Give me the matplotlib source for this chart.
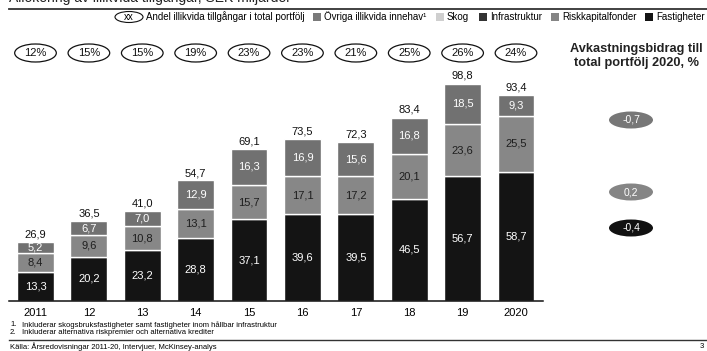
import matplotlib
matplotlib.use("Agg")
import matplotlib.pyplot as plt
from matplotlib.patches import Ellipse, Rectangle
from matplotlib.lines import Line2D

plt.rcParams['font.family'] = ['Liberation Sans', 'DejaVu Sans']

years = ['2011', '12', '13', '14', '15', '16', '17', '18', '19', '2020']
fastigheter = [13.3, 20.2, 23.2, 28.8, 37.1, 39.6, 39.5, 46.5, 56.7, 58.7]
riskkapital = [8.4, 9.6, 10.8, 13.1, 15.7, 17.1, 17.2, 20.1, 23.6, 25.5]
ovriga = [5.2, 6.7, 7.0, 12.9, 16.3, 16.9, 15.6, 16.8, 18.5, 9.3]
totals = [26.9, 36.5, 41.0, 54.7, 69.1, 73.5, 72.3, 83.4, 98.8, 93.4]
share = [12, 15, 15, 19, 23, 23, 21, 25, 26, 24]

contrib_labels = ['-0,7', '0,2', '-0,4']
legend_labels = ['Övriga illikvida innehav¹', 'Skog', 'Infrastruktur',
                 'Riskkapitalfonder', 'Fastigheter']

c_fast = '#141414'
c_risk = '#878787'
c_ovr = '#717171'
legend_colors = ['#7a7a7a', '#cfcfcf', '#333333', '#858585', '#141414']

W, H = 707, 351
fig = plt.figure(figsize=(W / 100, H / 100), dpi=100)


def fx(x):
    return x / W


def fy(y):
    return 1 - y / H


# bar axes (pixel geometry)
left, right, base = 8.8, 542.7, 301
scale = 2.2  # px per unit
ax = fig.add_axes([fx(left), fy(base), fx(right - left), base / H])
ax.set_xlim(-0.5, len(years) - 0.5)
ax.set_ylim(0, base / scale)

x = range(len(years))
bw = 0.69
ax.bar(x, fastigheter, bw, color=c_fast, edgecolor='white', linewidth=1)
bot2 = fastigheter
ax.bar(x, riskkapital, bw, bottom=bot2, color=c_risk, edgecolor='white', linewidth=1)
bot3 = [a + b for a, b in zip(fastigheter, riskkapital)]
ax.bar(x, ovriga, bw, bottom=bot3, color=c_ovr, edgecolor='white', linewidth=1)

fmt = lambda v: f'{v:.1f}'.replace('.', ',')
for i in x:
    ax.text(i, fastigheter[i] / 2, fmt(fastigheter[i]), ha='center', va='center',
            color='white', fontsize=8)
    ax.text(i, bot2[i] + riskkapital[i] / 2, fmt(riskkapital[i]), ha='center',
            va='center', color='#1e1e1e', fontsize=8)
    ax.text(i, bot3[i] + ovriga[i] / 2, fmt(ovriga[i]), ha='center', va='center',
            color='white', fontsize=8)
    ax.text(i, totals[i] + 1.2, fmt(totals[i]), ha='center', va='bottom',
            color='#111111', fontsize=8)
    # share ellipses
    yc = (base - 53) / scale
    ax.add_patch(Ellipse((i, yc), 0.78, 18 / scale, facecolor='white',
                         edgecolor='#111111', linewidth=0.9, clip_on=False))
    ax.text(i, yc, f'{share[i]}%', ha='center', va='center', fontsize=8,
            color='#111111')

ax.set_xticks(list(x))
ax.set_xticklabels(years, fontsize=8)
ax.tick_params(axis='x', length=0, pad=5)
ax.set_yticks([])
for s in ['top', 'left', 'right']:
    ax.spines[s].set_visible(False)
ax.spines['bottom'].set_linewidth(1.1)
ax.spines['bottom'].set_color('#111111')
ax.patch.set_alpha(0)

# title (cut off at top in the reference)
fig.text(fx(9), fy(2), 'Allokering av illikvida tillgångar, SEK miljarder',
         fontsize=10, va='baseline', ha='left', color='#222222')
fig.add_artist(Line2D([fx(9), fx(707)], [fy(9), fy(9)], color='#333333', lw=1.3))

# legend row
ly = 17
lfs = 7
fig.add_artist(Ellipse((fx(129), fy(ly)), fx(28), 11 / H, facecolor='white',
                       edgecolor='#111111', linewidth=0.8, transform=fig.transFigure))
fig.text(fx(129), fy(ly), 'xx', ha='center', va='center', fontsize=lfs)
fig.text(fx(146), fy(ly), 'Andel illikvida tillgångar i total portfölj',
         ha='left', va='center', fontsize=lfs)
sq_x = [313, 436, 479, 551, 645]
for sx, lab, col in zip(sq_x, legend_labels, legend_colors):
    fig.add_artist(Rectangle((fx(sx), fy(ly + 4)), fx(8), 8 / H, facecolor=col,
                             edgecolor='none', transform=fig.transFigure))
    fig.text(fx(sx + 11), fy(ly), lab, ha='left', va='center', fontsize=lfs)

# right panel
fig.text(fx(636), fy(56), 'Avkastningsbidrag till\ntotal portfölj 2020, %',
         ha='center', va='center', fontsize=9.2, fontweight='bold',
         color='#222222', linespacing=1.25)
contrib_y = [120, 192, 228]
contrib_col = ['#777777', '#858585', '#111111']
for lab, cy, col in zip(contrib_labels, contrib_y, contrib_col):
    fig.add_artist(Ellipse((fx(631), fy(cy)), fx(44), 17 / H, facecolor=col,
                           edgecolor='none', transform=fig.transFigure))
    fig.text(fx(631), fy(cy), lab, ha='center', va='center', fontsize=7.5,
             color='white')

# footnotes and source
nfs = 5.5
fig.text(fx(10), fy(325), '1.', fontsize=nfs, va='center')
fig.text(fx(22), fy(325), 'Inkluderar skogsbruksfastigheter samt fastigheter inom hållbar infrastruktur',
         fontsize=nfs, va='center')
fig.text(fx(10), fy(332), '2.', fontsize=nfs, va='center')
fig.text(fx(22), fy(332), 'Inkluderar alternativa riskpremier och alternativa krediter',
         fontsize=nfs, va='center')
fig.add_artist(Line2D([fx(9), fx(707)], [fy(340), fy(340)], color='#333333', lw=1.0))
fig.text(fx(10), fy(347), 'Källa: Årsredovisningar 2011-20, Intervjuer, McKinsey-analys',
         fontsize=nfs, va='center')
fig.text(fx(704), fy(347), '3', fontsize=nfs, va='center', ha='right')

fig.savefig('out.png', dpi=100)
